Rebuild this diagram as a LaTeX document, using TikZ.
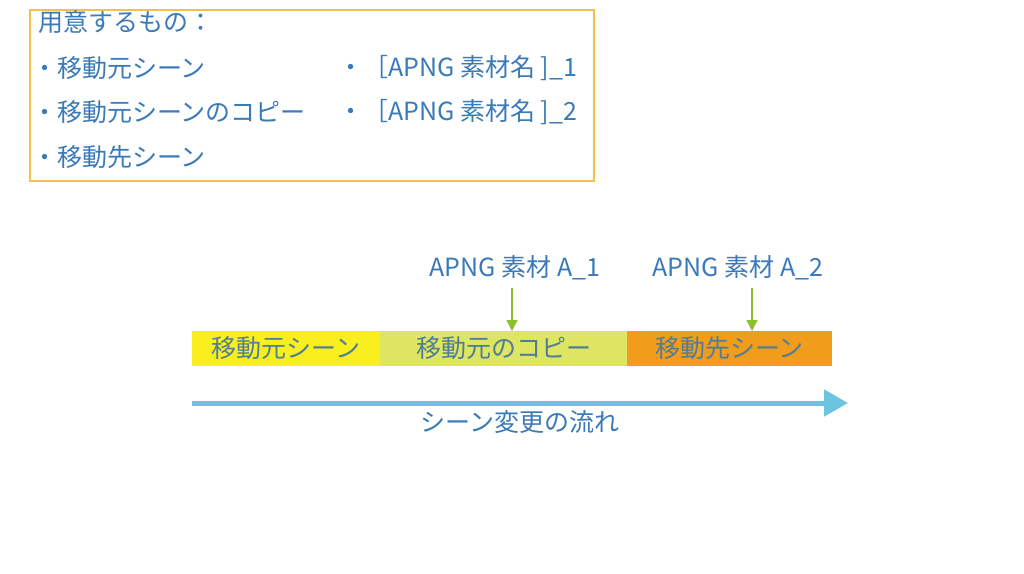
\documentclass[tikz,border=0pt]{standalone}
\usepackage{fontspec}
\setmainfont{Noto Sans CJK JP}
\usetikzlibrary{arrows.meta}
\definecolor{boxor}{HTML}{F5C04A}
\definecolor{ttxt}{HTML}{3A7AB8}
\definecolor{btxt}{HTML}{4F7E96}
\definecolor{yel}{HTML}{F9EF1E}
\definecolor{lgr}{HTML}{DDE563}
\definecolor{org}{HTML}{F29C1C}
\definecolor{grn}{HTML}{8CBF2A}
\definecolor{sky}{HTML}{6CC4E0}
\begin{document}
\begin{tikzpicture}[x=1pt,y=-1pt,
  t/.style={font=\fontsize{25}{25}\selectfont,text=ttxt,inner sep=0pt,anchor=west},
  seg/.style={draw=none,minimum height=35pt,inner sep=0pt,text=btxt,font=\fontsize{25}{25}\selectfont},
  ga/.style={draw=grn,line width=1.2pt,-{Triangle[width=11pt,length=11pt]}}]
\useasboundingbox[fill=white] (0,0) rectangle (1024,573);
\draw[boxor,line width=2pt] (30,10) rectangle (594,181);
\node[t] (h) at (38,22) {用意するもの：};
\node[t] (a1) at (32,68) {・移動元シーン};
\node[t] (a2) at (32,112) {・移動元シーンのコピー};
\node[t] (a3) at (32,157) {・移動先シーン};
\node[t] (b1) at (338,68) {・［APNG 素材名 ]\_1};
\node[t] (b2) at (338,112) {・［APNG 素材名 ]\_2};
\node[seg,fill=yel,minimum width=188pt] (s1) at (286,348.5) {移動元シーン};
\node[seg,fill=lgr,minimum width=247pt] (s2) at (503.5,348.5) {移動元のコピー};
\node[seg,fill=org,minimum width=205pt] (s3) at (729.5,348.5) {移動先シーン};
\node[t,anchor=center] (l1) at (515,268) {APNG 素材 A\_1};
\node[t,anchor=center] (l2) at (738,268) {APNG 素材 A\_2};
\coordinate (p1) at (512,288); \coordinate (q1) at (512,331);
\coordinate (p2) at (752,288); \coordinate (q2) at (752,331);
\draw[ga] (p1) -- (q1);
\draw[ga] (p2) -- (q2);
\coordinate (fa) at (192,403); \coordinate (fb) at (848,403);
\draw[sky,line width=5pt,-{Triangle[width=26pt,length=24pt]}] (fa) -- (fb);
\node[t,anchor=center] (fl) at (520,422) {シーン変更の流れ};
\end{tikzpicture}
\end{document}
